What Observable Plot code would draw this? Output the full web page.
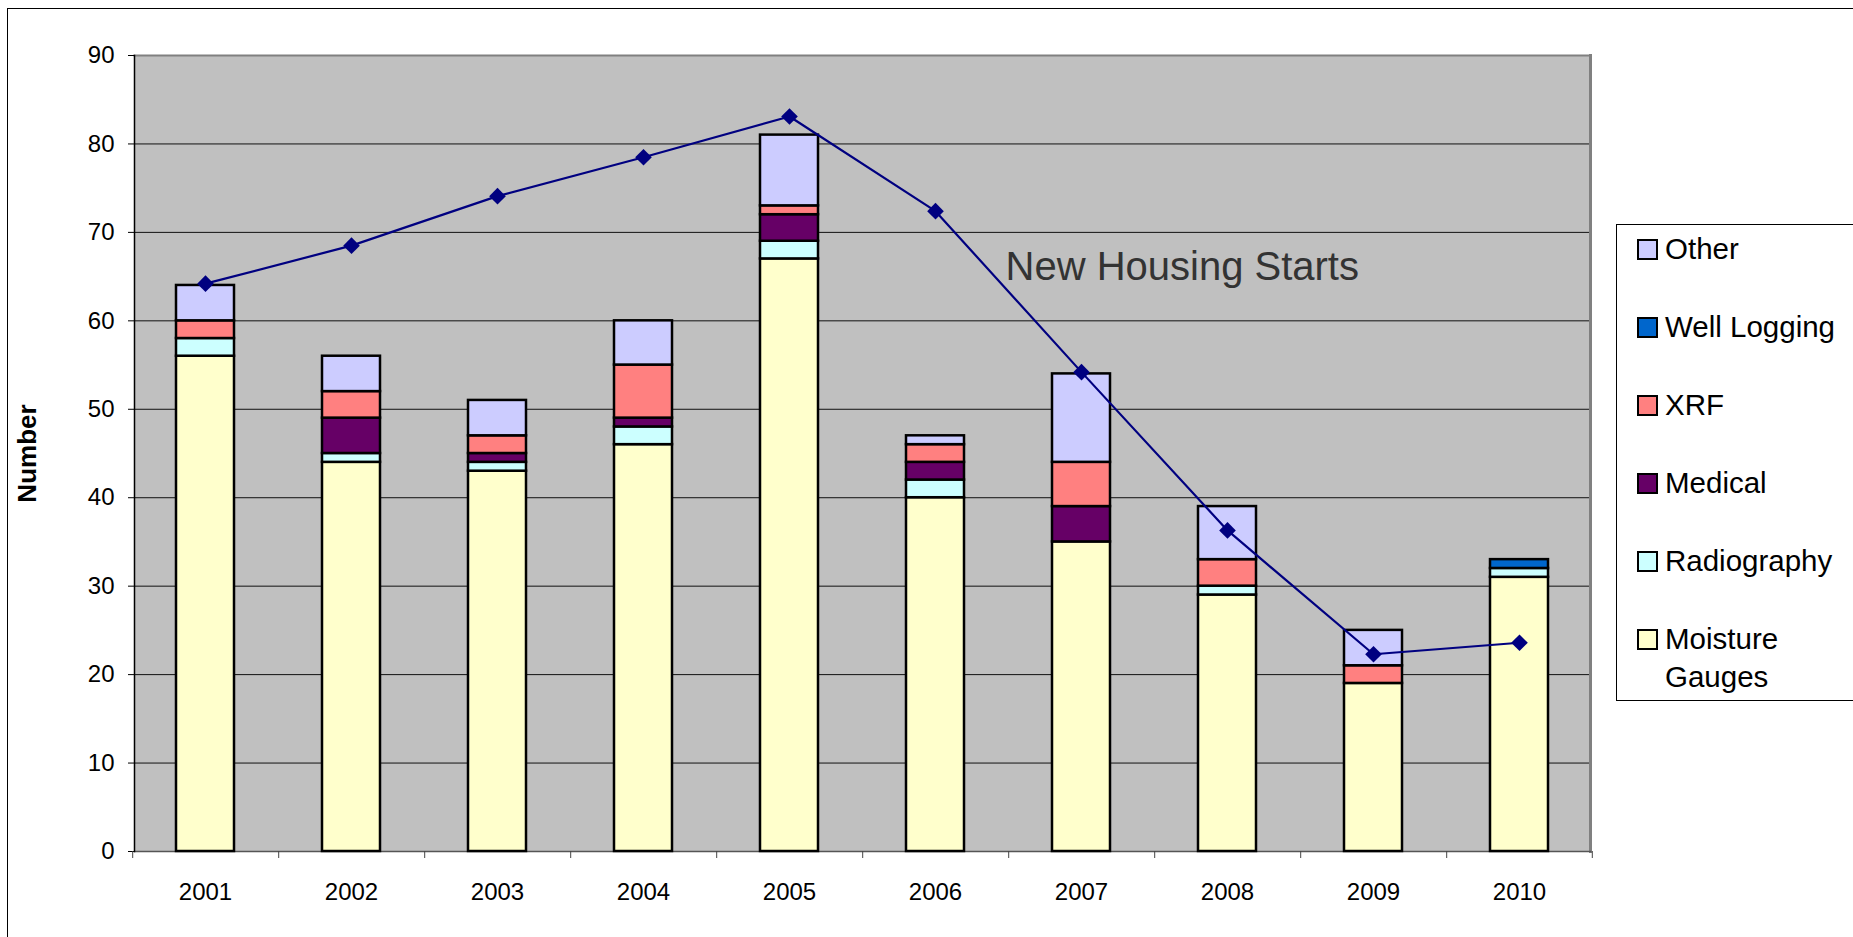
<!DOCTYPE html>
<html>
<head>
<meta charset="utf-8">
<script src="https://cdn.jsdelivr.net/npm/d3@7"></script>
<script src="https://cdn.jsdelivr.net/npm/@observablehq/plot@0.6"></script>
<style>
  html, body { margin: 0; padding: 0; background: #fff; }
  body { width: 1853px; height: 937px; overflow: hidden; position: relative; font-family: "Liberation Sans", Arial, sans-serif; }
  #chart { position: absolute; left: 0; top: 0; }
  #border { position: absolute; left: 7px; top: 8px; width: 1900px; height: 1000px; border: 1px solid #000; pointer-events: none; box-sizing: border-box; }
  #legend { position: absolute; left: 1616px; top: 224px; width: 300px; height: 477px; border: 1px solid #000; box-sizing: border-box; background: #fff; }
  .item { position: absolute; left: 20px; }
  .sw { position: absolute; left: 0; width: 17px; height: 17px; border: 2px solid #000; }
  .lbl { position: absolute; left: 28px; width: 190px; font-size: 29.5px; line-height: 38px; color: #000; }
  g[aria-label="y-axis label"] text { font-weight: bold; font-size: 26px; }
</style>
</head>
<body>
<div id="chart"></div>
<div id="legend"></div>
<div id="border"></div>
<script>
// ---- data ----
const years = ["2001","2002","2003","2004","2005","2006","2007","2008","2009","2010"];
const seriesNames = ["Moisture Gauges","Radiography","Medical","XRF","Well Logging","Other"];
const seriesColors = ["#FFFFCC","#CCFFFF","#660066","#FF8080","#0066CC","#CCCCFF"];
const moistureGauges = [56,44,43,46,67,40,35,29,19,31];
const radiography    = [2,1,1,2,2,2,0,1,0,1];
const medical        = [0,4,1,1,3,2,4,0,0,0];
const xrf            = [2,3,2,6,1,2,5,3,2,0];
const wellLogging    = [0,0,0,0,0,0,0,0,0,1];
const other          = [4,4,4,5,8,1,10,6,4,0];
const newHousingStarts = [64.2,68.5,74.1,78.5,83.1,72.4,54.2,36.3,22.3,23.6];
const yTicks = [0,10,20,30,40,50,60,70,80,90];
const annotation = [{label: "New Housing Starts", year: "2007", value: 66.1}];

// ---- build tables ----
const seriesValues = [moistureGauges, radiography, medical, xrf, wellLogging, other];
const rows = [];
seriesNames.forEach((s, i) => {
  years.forEach((y, j) => {
    if (seriesValues[i][j] > 0) rows.push({year: y, series: s, value: seriesValues[i][j]});
  });
});
const housing = years.map((y, j) => ({year: y, value: newHousingStarts[j]}));

const W = 1853, H = 937, ML = 134, MR = 263, MT = 55, MB = 86;
const step = (W - ML - MR) / years.length;

const chart = Plot.plot({
  width: W, height: H,
  marginLeft: ML, marginRight: MR, marginTop: MT, marginBottom: MB,
  style: {background: "transparent", fontFamily: "'Liberation Sans', Arial, sans-serif", color: "#000"},
  x: {type: "band", domain: years, paddingInner: 0.6, paddingOuter: 0.28},
  y: {domain: [0, 90]},
  color: {type: "ordinal", domain: seriesNames, range: seriesColors},
  marks: [
    Plot.frame({fill: "#C0C0C0", stroke: "none"}),
    Plot.gridY(yTicks.filter(t => t > 0 && t < 90), {stroke: "#111", strokeOpacity: 1, strokeWidth: 1}),
    Plot.frame({anchor: "top", stroke: "#808080", strokeWidth: 2}),
    Plot.frame({anchor: "right", stroke: "#808080", strokeWidth: 3}),
    Plot.frame({anchor: "bottom", stroke: "#555", strokeWidth: 1.5}),
    Plot.frame({anchor: "left", stroke: "#000", strokeWidth: 1.5}),
    Plot.barY(rows, Plot.stackY({x: "year", y: "value", fill: "series", order: seriesNames, stroke: "#000", strokeWidth: 2.5})),
    Plot.line(housing, {x: "year", y: "value", stroke: "#000080", strokeWidth: 2.2}),
    Plot.dot(housing, {x: "year", y: "value", symbol: "diamond2", r: 7.5, fill: "#000080", stroke: "none"}),
    Plot.text(annotation, {x: "year", y: "value", text: "label", textAnchor: "start", lineAnchor: "middle", dx: -76, fontSize: 40, fill: "#333"}),
    Plot.axisY({ticks: yTicks, tickSize: 6, tickPadding: 14, fontSize: 24, label: "Number", labelAnchor: "center", labelArrow: "none", labelOffset: 117}),
    Plot.axisX({tickSize: 0, tickPadding: 31, fontSize: 24, label: null}),
    Plot.axisX({tickSize: 7, tickFormat: () => "", dx: -step / 2, label: null, stroke: "#444"}),
    Plot.axisX({ticks: [years[years.length - 1]], tickSize: 7, tickFormat: () => "", dx: step / 2, label: null, stroke: "#444"})
  ]
});
document.getElementById("chart").appendChild(chart);

// ---- legend (top to bottom: reverse of stack order) ----
const legend = document.getElementById("legend");
const legendOrder = seriesNames.map((s, i) => ({s, c: seriesColors[i]})).reverse();
legendOrder.forEach((d, i) => {
  const top = 14 + i * 77.9;
  const item = document.createElement("div");
  item.className = "item";
  item.style.top = top + "px";
  const sw = document.createElement("div");
  sw.className = "sw";
  sw.style.background = d.c;
  sw.style.top = "0px";
  const lbl = document.createElement("div");
  lbl.className = "lbl";
  lbl.style.top = "-9px";
  lbl.textContent = d.s;
  item.appendChild(sw);
  item.appendChild(lbl);
  legend.appendChild(item);
});
</script>
</body>
</html>
